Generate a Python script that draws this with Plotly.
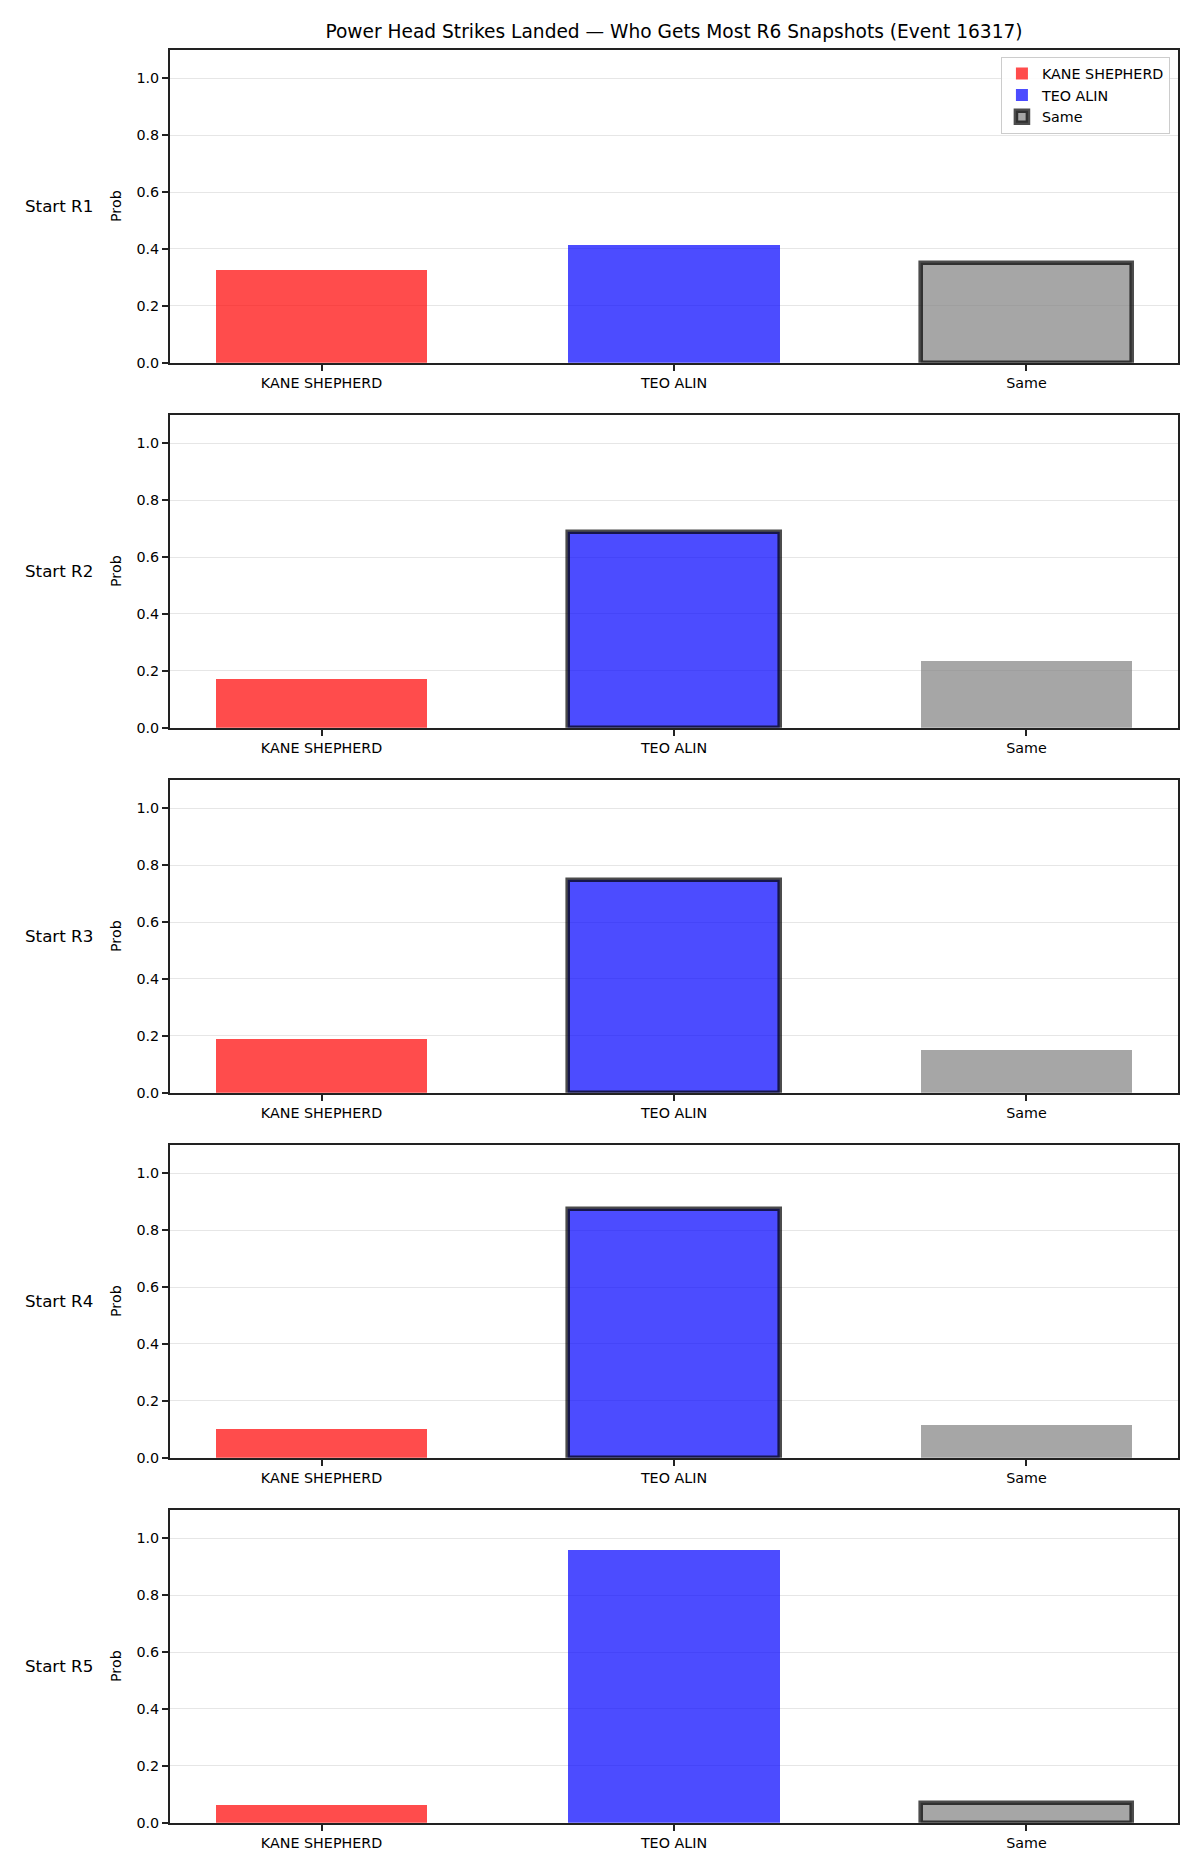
import plotly.graph_objects as go

# ---- data ----
categories = ["KANE SHEPHERD", "TEO ALIN", "Same"]
row_labels = ["Start R1", "Start R2", "Start R3", "Start R4", "Start R5"]
kane_prob = [0.325, 0.172, 0.189, 0.102, 0.064]
teo_prob = [0.414, 0.689, 0.749, 0.874, 0.958]
same_prob = [0.352, 0.234, 0.151, 0.116, 0.069]
highlight = ["Same", "TEO ALIN", "TEO ALIN", "TEO ALIN", "Same"]
title_text = "Power Head Strikes Landed — Who Gets Most R6 Snapshots (Event 16317)"
y_ticks = [0.0, 0.2, 0.4, 0.6, 0.8, 1.0]

# ---- style ----
W, H = 1200, 1875
ML, MR, MT, MB = 170, 22, 50, 52
PH = H - MT - MB
sub_h = 312.7
step = 365.0
FONT = "DejaVu Sans"
TICK = 14.3
colors = {
    "KANE SHEPHERD": "rgba(255,0,0,0.7)",
    "TEO ALIN": "rgba(0,0,255,0.7)",
    "Same": "rgba(128,128,128,0.7)",
}
series = {"KANE SHEPHERD": kane_prob, "TEO ALIN": teo_prob, "Same": same_prob}

fig = go.Figure()
layout = {}
annotations = []
for i in range(5):
    top = step * i
    bot = top + sub_h
    dom = [1 - bot / PH, 1 - top / PH]
    sx = "" if i == 0 else str(i + 1)
    for cat in categories:
        hl = highlight[i] == cat
        fig.add_trace(go.Bar(
            x=[cat], y=[series[cat][i]],
            name=cat, width=0.6,
            marker=dict(color=colors[cat],
                        line=dict(color="rgba(0,0,0,0.7)" if hl else "rgba(0,0,0,0)",
                                  width=4.6 if hl else 0)),
            xaxis="x" + sx, yaxis="y" + sx,
            showlegend=(i == 0), legendgroup=cat,
        ))
    layout["xaxis" + sx] = dict(
        domain=[0, 1], anchor="y" + sx, type="category",
        categoryorder="array", categoryarray=categories,
        range=[-0.43, 2.43], showgrid=False, zeroline=False,
        showline=True, mirror=True, linecolor="#222", linewidth=2,
        ticks="outside", ticklen=6, tickwidth=1.6, tickcolor="#222",
        tickfont=dict(family=FONT, size=TICK, color="#000"),
    )
    layout["yaxis" + sx] = dict(
        domain=dom, anchor="x" + sx, range=[0, 1.1],
        tickvals=y_ticks, ticktext=[f"{v:.1f}" for v in y_ticks],
        showgrid=True, gridcolor="#e6e6e6", gridwidth=1, zeroline=False,
        showline=True, mirror=True, linecolor="#222", linewidth=2,
        ticks="outside", ticklen=6, tickwidth=1.6, tickcolor="#222",
        tickfont=dict(family=FONT, size=TICK, color="#000"),
    )
    ymid = (dom[0] + dom[1]) / 2
    annotations.append(dict(
        text=row_labels[i], xref="paper", yref="paper",
        x=(23 - ML) / (W - ML - MR), y=ymid, xanchor="left", yanchor="middle",
        showarrow=False, font=dict(family=FONT, size=16.7, color="#000"),
    ))
    annotations.append(dict(
        text="Prob", xref="paper", yref="paper", textangle=-90,
        x=(116.7 - ML) / (W - ML - MR), y=ymid, xanchor="center", yanchor="middle",
        showarrow=False, font=dict(family=FONT, size=TICK, color="#000"),
    ))

fig.update_layout(
    width=W, height=H, margin=dict(l=ML, r=MR, t=MT, b=MB),
    paper_bgcolor="white", plot_bgcolor="white",
    barmode="overlay", bargap=0,
    font=dict(family=FONT, color="#000"),
    title=dict(text=title_text, x=674 / W, xanchor="center", xref="container",
               y=1 - 31 / H, yanchor="middle", yref="container",
               font=dict(family=FONT, size=18.6, color="#000")),
    legend=dict(x=0.992, xanchor="right", y=1 - 6.7 / PH, yanchor="top",
                bgcolor="rgba(255,255,255,0.85)", bordercolor="#cccccc", borderwidth=1,
                font=dict(family=FONT, size=TICK, color="#000"),
                traceorder="normal"),
    annotations=annotations,
    **layout,
)

fig.write_html("out.html")
